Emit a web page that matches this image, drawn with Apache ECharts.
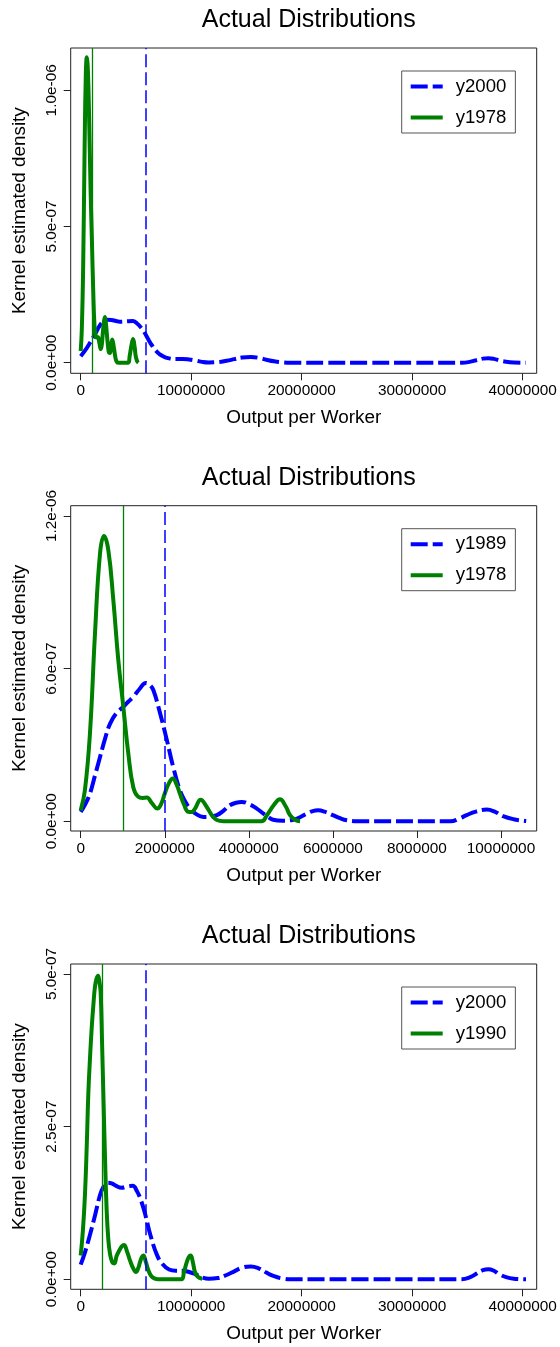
<!DOCTYPE html>
<html><head><meta charset="utf-8">
<script src="https://cdn.jsdelivr.net/npm/echarts@6/dist/echarts.min.js"></script>
<style>html,body{margin:0;padding:0;background:#fff}#c{width:560px;height:1347px}</style>
</head><body><div id="c"></div>
<script>
// ---- data (x: output per worker, y: kernel density) ----
const y2000 = [[0,2.4e-8],[0.4e6,4.5e-8],[0.84e6,7.3e-8],[1.3e6,1.05e-7],[1.75e6,1.38e-7],[2.05e6,1.51e-7],[2.4e6,1.58e-7],[2.8e6,1.57e-7],[3.2e6,1.53e-7],[3.7e6,1.5e-7],[4.2e6,1.52e-7],[4.7e6,1.53e-7],[5.1e6,1.44e-7],[5.5e6,1.27e-7],[5.9e6,1.02e-7],[6.3e6,7.3e-8],[6.9e6,4.0e-8],[7.4e6,2.5e-8],[8.0e6,1.6e-8],[8.6e6,1.4e-8],[9.2e6,1.4e-8],[9.8e6,1.2e-8],[10.4e6,8e-9],[11.0e6,3e-9],[11.6e6,1e-9],[12.4e6,2e-9],[13.2e6,7e-9],[13.9e6,1.3e-8],[14.6e6,1.9e-8],[15.4e6,2.1e-8],[16.1e6,1.8e-8],[16.8e6,1.1e-8],[17.5e6,5e-9],[18.2e6,1.5e-9],[19.0e6,0],[22e6,0],[26e6,0],[30e6,0],[34.5e6,0],[35.2e6,3e-9],[35.8e6,9e-9],[36.4e6,1.5e-8],[36.9e6,1.65e-8],[37.4e6,1.4e-8],[37.9e6,8e-9],[38.5e6,3.5e-9],[39.2e6,1e-9],[40.3e6,0]];
const y1978 = [[0,4.3e-8],[0.1e6,1.22e-7],[0.22e6,3.45e-7],[0.34e6,7.38e-7],[0.46e6,1.053e-6],[0.554e6,1.121e-6],[0.657e6,1.066e-6],[0.776e6,8.7e-7],[0.895e6,6.33e-7],[1.014e6,4.5e-7],[1.133e6,2.66e-7],[1.25e6,1.35e-7],[1.37e6,9.6e-8],[1.47e6,9.2e-8],[1.57e6,9.3e-8],[1.7e6,7e-8],[1.82e6,5e-8],[1.92e6,7e-8],[2.0e6,1.09e-7],[2.1e6,1.5e-7],[2.19e6,1.68e-7],[2.28e6,1.45e-7],[2.36e6,1.09e-7],[2.46e6,6.5e-8],[2.56e6,3.7e-8],[2.64e6,3.6e-8],[2.72e6,5e-8],[2.855e6,8.5e-8],[3.0e6,5.6e-8],[3.12e6,2.4e-8],[3.24e6,5e-9],[3.4e6,0],[4.3e6,0],[4.43e6,2.4e-8],[4.6e6,6.5e-8],[4.74e6,8.66e-8],[4.88e6,5.8e-8],[4.98e6,2.4e-8],[5.1e6,6e-9],[5.22e6,0]];
const y1989 = [[0,3.7e-8],[0.1e6,6.5e-8],[0.22e6,1.09e-7],[0.34e6,1.8e-7],[0.46e6,2.53e-7],[0.58e6,3.25e-7],[0.70e6,3.84e-7],[0.85e6,4.25e-7],[1.014e6,4.5e-7],[1.13e6,4.7e-7],[1.25e6,4.89e-7],[1.4e6,5.2e-7],[1.554e6,5.44e-7],[1.65e6,5.35e-7],[1.73e6,5.15e-7],[1.89e6,4.24e-7],[2.05e6,3.19e-7],[2.2e6,2.14e-7],[2.36e6,1.22e-7],[2.48e6,8e-8],[2.6e6,5e-8],[2.75e6,2.8e-8],[2.92e6,1.7e-8],[3.08e6,1.8e-8],[3.24e6,2.4e-8],[3.4e6,4.2e-8],[3.55e6,6.3e-8],[3.7e6,7.3e-8],[3.83e6,7.6e-8],[4.0e6,6.8e-8],[4.19e6,5e-8],[4.35e6,3e-8],[4.46e6,1.7e-8],[4.58e6,6e-9],[4.8e6,2e-9],[5.06e6,6e-9],[5.22e6,1.6e-8],[5.38e6,3e-8],[5.52e6,4e-8],[5.65e6,4.3e-8],[5.8e6,3.8e-8],[6.0e6,2.4e-8],[6.17e6,1.2e-8],[6.33e6,4e-9],[6.6e6,0],[8.8e6,0],[9.0e6,1e-8],[9.18e6,2.4e-8],[9.4e6,3.8e-8],[9.66e6,4.6e-8],[9.85e6,3.8e-8],[10.05e6,2e-8],[10.3e6,8e-9],[10.6e6,1e-9]];
const y1990 = [[0,3.9e-8],[0.2e6,8e-8],[0.39e6,1.4e-7],[0.55e6,2.2e-7],[0.69e6,3.04e-7],[0.85e6,3.65e-7],[1.0e6,4.13e-7],[1.15e6,4.5e-7],[1.29e6,4.79e-7],[1.43e6,4.92e-7],[1.57e6,4.97e-7],[1.69e6,4.88e-7],[1.81e6,4.68e-7],[1.93e6,3.9e-7],[2.05e6,3.04e-7],[2.2e6,2.0e-7],[2.35e6,1.13e-7],[2.5e6,6.5e-8],[2.65e6,4.2e-8],[2.85e6,2.8e-8],[3.04e6,2.6e-8],[3.25e6,3.8e-8],[3.5e6,4.75e-8],[3.72e6,5.4e-8],[3.92e6,5.6e-8],[4.2e6,4.5e-8],[4.46e6,3.1e-8],[4.75e6,1.8e-8],[5.0e6,1.2e-8],[5.2e6,1.8e-8],[5.37e6,2.8e-8],[5.52e6,3.6e-8],[5.67e6,3.9e-8],[5.9e6,2.8e-8],[6.12e6,1.5e-8],[6.4e6,5e-9],[6.72e6,1e-9],[7.0e6,0],[9.1e6,0],[9.35e6,1.2e-8],[9.6e6,2.8e-8],[9.8e6,3.7e-8],[9.95e6,3.9e-8],[10.15e6,2.8e-8],[10.34e6,1.2e-8],[10.6e6,4e-9],[11.0e6,1e-9]];

// vertical reference lines (means)
const mean2000 = 5.85e6;
const mean1978 = 1.01e6;
const mean1989 = 1.99e6;
const mean1990 = 1.99e6;

// tick values and labels
const xTicks40M = [0, 10000000, 20000000, 30000000, 40000000];
const xTicks10M = [0, 2000000, 4000000, 6000000, 8000000, 10000000];
const yTicksA = [0, 5e-7, 1e-6];
const yLabelsA = ['0.0e+00', '5.0e-07', '1.0e-06'];
const yTicksB = [0, 6e-7, 1.2e-6];
const yLabelsB = ['0.0e+00', '6.0e-07', '1.2e-06'];
const yTicksC = [0, 2.5e-7, 5e-7];
const yLabelsC = ['0.0e+00', '2.5e-07', '5.0e-07'];

const titleText = 'Actual Distributions';
const xName = 'Output per Worker';
const yName = 'Kernel estimated density';

// ---- layout ----
const FONT = '"Liberation Sans", Arial, Helvetica, sans-serif';
const BLUE = '#0000ff', GREEN = '#008000';
const panels = [
  {top: 48, xMin: -0.905e6, xMax: 41.27e6, yMin: -3.89e-8, yMax: 1.1553e-6, xTicks: xTicks40M, yTicks: yTicksA, yLabels: yLabelsA,
   blue: y2000, blueName: 'y2000', blueMean: mean2000, green: y1978, greenName: 'y1978', greenMean: mean1978},
  {top: 505.7, xMin: -0.238e6, xMax: 10.85e6, yMin: -3.82e-8, yMax: 1.2405e-6, xTicks: xTicks10M, yTicks: yTicksB, yLabels: yLabelsB,
   blue: y1989, blueName: 'y1989', blueMean: mean1989, green: y1978, greenName: 'y1978', greenMean: mean1978},
  {top: 964, xMin: -0.905e6, xMax: 41.27e6, yMin: -1.64e-8, yMax: 5.164e-7, xTicks: xTicks40M, yTicks: yTicksC, yLabels: yLabelsC,
   blue: y2000, blueName: 'y2000', blueMean: mean2000, green: y1990, greenName: 'y1990', greenMean: mean1990}
];
const GL = 70.7, GW = 466, GH = 325.3;

const option = {animation: false, backgroundColor: '#fff', title: [], grid: [], xAxis: [], yAxis: [], legend: [], series: []};
panels.forEach((p, i) => {
  option.title.push({text: titleText, left: GL + GW / 2, top: p.top - 45, textAlign: 'center',
    textStyle: {fontSize: 25, fontWeight: 'normal', color: '#000', fontFamily: FONT}});
  option.grid.push({left: GL, top: p.top, width: GW, height: GH, show: true, borderColor: '#222', borderWidth: 1, backgroundColor: 'transparent', containLabel: false});
  option.xAxis.push({gridIndex: i, type: 'value', min: p.xMin, max: p.xMax,
    axisLine: {show: false, onZero: false}, splitLine: {show: false},
    axisTick: {show: true, customValues: p.xTicks, length: 7, lineStyle: {color: '#222', width: 1}},
    axisLabel: {customValues: p.xTicks, formatter: v => String(Math.round(v)), fontSize: 15.4, color: '#000', margin: 10, fontFamily: FONT},
    name: xName, nameLocation: 'middle', nameGap: 35, nameTextStyle: {fontSize: 18.9, color: '#000', fontFamily: FONT}});
  option.yAxis.push({gridIndex: i, type: 'value', min: p.yMin, max: p.yMax,
    axisLine: {show: false, onZero: false}, splitLine: {show: false},
    axisTick: {show: true, customValues: p.yTicks, length: 7, lineStyle: {color: '#222', width: 1}},
    axisLabel: {customValues: p.yTicks, rotate: 90, margin: 11, fontSize: 15.4, color: '#000', fontFamily: FONT,
      formatter: v => { const k = p.yTicks.findIndex(t => Math.abs(t - v) < 1e-12); return k >= 0 ? p.yLabels[k] : ''; }},
    name: yName, nameLocation: 'middle', nameGap: 41, nameRotate: 90, nameTextStyle: {fontSize: 18.9, color: '#000', fontFamily: FONT}});
  option.legend.push({orient: 'vertical', left: 401.7, top: p.top + 23, data: [p.blueName, p.greenName],
    itemWidth: 32, itemHeight: 20, itemGap: 12, padding: [6, 9, 6, 7], selectedMode: false,
    borderColor: '#555', borderWidth: 1, backgroundColor: '#fff', borderRadius: 0,
    textStyle: {fontSize: 18.6, color: '#000', fontFamily: FONT, padding: [0, 0, 0, 8]},
    itemStyle: {opacity: 0, borderWidth: 0}, lineStyle: {width: 4}});
  option.series.push({type: 'line', name: p.blueName, xAxisIndex: i, yAxisIndex: i, data: p.blue,
    symbol: 'none', showSymbol: false, smooth: 0.45, silent: true,
    lineStyle: {color: BLUE, width: 4, type: [17, 5]}, itemStyle: {color: BLUE},
    markLine: {silent: true, symbol: ['none', 'none'], label: {show: false}, animation: false,
      lineStyle: {color: BLUE, width: 1.5, type: [13, 5]}, data: [{xAxis: p.blueMean}]}});
  option.series.push({type: 'line', name: p.greenName, xAxisIndex: i, yAxisIndex: i, data: p.green,
    symbol: 'none', showSymbol: false, smooth: 0.45, silent: true,
    lineStyle: {color: GREEN, width: 4, type: 'solid'}, itemStyle: {color: GREEN},
    markLine: {silent: true, symbol: ['none', 'none'], label: {show: false}, animation: false,
      lineStyle: {color: GREEN, width: 1.3, type: 'solid'}, data: [{xAxis: p.greenMean}]}});
});
const chart = echarts.init(document.getElementById('c'), null, {renderer: 'canvas'});
chart.setOption(option);
</script></body></html>
